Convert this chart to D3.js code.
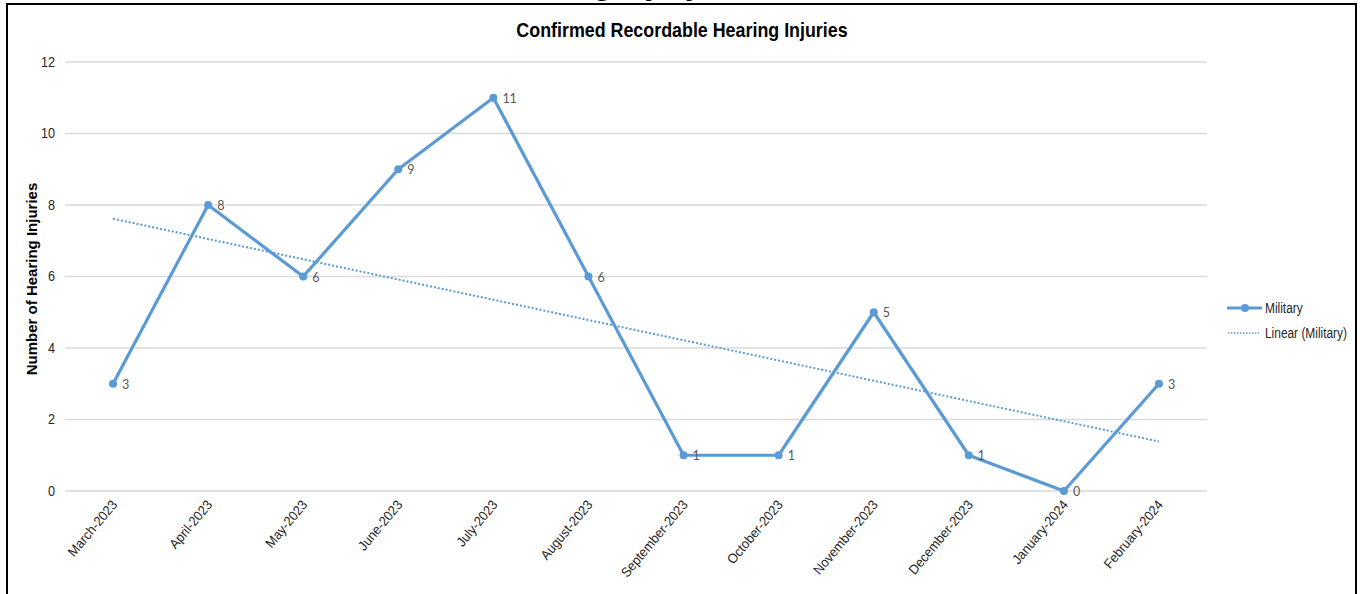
<!DOCTYPE html>
<html>
<head>
<meta charset="utf-8">
<title>Confirmed Recordable Hearing Injuries</title>
<script src="https://cdn.jsdelivr.net/npm/d3@7"></script>
<style>
  body { margin: 0; background: #fff; }
  svg { display: block; }
  .narrow { font-family: "Liberation Sans Narrow", "Arial Narrow", "Liberation Sans", Arial, sans-serif; }
</style>
</head>
<body>
<svg id="chart" width="1360" height="594"></svg>
<script>
// data
var months = ["March-2023", "April-2023", "May-2023", "June-2023", "July-2023", "August-2023",
              "September-2023", "October-2023", "November-2023", "December-2023", "January-2024", "February-2024"];
var military = [3, 8, 6, 9, 11, 6, 1, 1, 5, 1, 0, 3];
var yTicks = [0, 2, 4, 6, 8, 10, 12];

var blue = "#5b9bd5";

var svg = d3.select("#chart");

// squeeze text horizontally, no narrow font installed
function squeeze(sel, k) {
    sel.each(function() {
        var w = this.getComputedTextLength();
        d3.select(this).attr("textLength", w * k).attr("lengthAdjust", "spacingAndGlyphs");
    });
}

// frame of the slide
svg.append("rect")
    .attr("x", 7).attr("y", 4)
    .attr("width", 1349).attr("height", 640)
    .attr("fill", "none").attr("stroke", "#000").attr("stroke-width", 2);

// heading from above the frame, only its descenders show
svg.append("text")
    .attr("x", 500).attr("y", -5)
    .attr("font-family", "Liberation Sans, Arial, sans-serif")
    .attr("font-weight", "bold").attr("font-size", 30)
    .text("Hearing Injury");

var x = d3.scaleBand().domain(months).range([65.5, 1206.5]);
var y = d3.scaleLinear().domain([0, 12]).range([491, 62]);

// grid lines
svg.append("g").selectAll("line")
    .data(yTicks)
    .enter().append("line")
    .attr("x1", 65).attr("x2", 1207)
    .attr("y1", function(d) { return y(d); })
    .attr("y2", function(d) { return y(d); })
    .attr("stroke", "#d9d9d9").attr("stroke-width", 1.3);

// y tick labels
svg.append("g").selectAll("text")
    .data(yTicks)
    .enter().append("text")
    .attr("class", "narrow")
    .attr("x", 55)
    .attr("y", function(d) { return y(d); })
    .attr("dy", "0.35em")
    .attr("text-anchor", "end")
    .attr("font-size", 14)
    .attr("fill", "#262626")
    .text(function(d) { return d; })
    .call(squeeze, 0.9);

// x tick labels
svg.append("g").selectAll("text")
    .data(months)
    .enter().append("text")
    .attr("class", "narrow")
    .attr("text-anchor", "end")
    .attr("font-size", 13.5)
    .attr("fill", "#262626")
    .attr("transform", function(d) {
        return "translate(" + (x(d) + x.bandwidth() / 2 + 5) + ",505) rotate(-50)";
    })
    .text(function(d) { return d; })
    .call(squeeze, 0.95);

// axis title
svg.append("text")
    .attr("transform", "translate(37,279) rotate(-90)")
    .attr("text-anchor", "middle")
    .attr("font-family", "Liberation Sans, Arial, sans-serif")
    .attr("font-weight", "bold")
    .attr("font-size", 15)
    .attr("fill", "#000")
    .text("Number of Hearing Injuries");

// chart title
svg.append("text")
    .attr("class", "narrow")
    .attr("x", 682).attr("y", 37)
    .attr("text-anchor", "middle")
    .attr("font-weight", "bold")
    .attr("font-size", 21)
    .attr("fill", "#000")
    .text("Confirmed Recordable Hearing Injuries")
    .call(squeeze, 0.85);

var cx = function(d, i) { return x(months[i]) + x.bandwidth() / 2; };

// linear trend line (least squares)
var n = military.length;
var mx = d3.mean(military, function(d, i) { return i; });
var my = d3.mean(military);
var sxy = d3.sum(military, function(d, i) { return (i - mx) * (d - my); });
var sxx = d3.sum(military, function(d, i) { return (i - mx) * (i - mx); });
var slope = sxy / sxx;
var icpt = my - slope * mx;

svg.append("line")
    .attr("x1", cx(null, 0)).attr("y1", y(icpt))
    .attr("x2", cx(null, n - 1)).attr("y2", y(icpt + slope * (n - 1)))
    .attr("stroke", blue).attr("stroke-width", 2)
    .attr("stroke-dasharray", "2,2");

// series line
var line = d3.line()
    .x(function(d, i) { return cx(d, i); })
    .y(function(d) { return y(d); });

svg.append("path")
    .datum(military)
    .attr("d", line)
    .attr("fill", "none")
    .attr("stroke", blue)
    .attr("stroke-width", 3.2)
    .attr("stroke-linejoin", "round");

svg.append("g").selectAll("circle")
    .data(military)
    .enter().append("circle")
    .attr("cx", cx)
    .attr("cy", function(d) { return y(d); })
    .attr("r", 4)
    .attr("fill", blue);

// data labels
svg.append("g").selectAll("text")
    .data(military)
    .enter().append("text")
    .attr("x", function(d, i) { return cx(d, i) + 9; })
    .attr("y", function(d) { return y(d); })
    .attr("dy", "0.4em")
    .attr("font-family", "Lato, 'Open Sans', sans-serif")
    .attr("font-size", 12.5)
    .attr("fill", "#595959")
    .text(function(d) { return d; });

// legend
var lg = svg.append("g").attr("class", "narrow");
lg.append("line")
    .attr("x1", 1227).attr("x2", 1262).attr("y1", 308).attr("y2", 308)
    .attr("stroke", blue).attr("stroke-width", 3.2);
lg.append("circle").attr("cx", 1245).attr("cy", 308).attr("r", 4).attr("fill", blue);
lg.append("text").attr("x", 1265).attr("y", 308).attr("dy", "0.35em")
    .attr("font-size", 14).attr("fill", "#262626").text("Military")
    .call(squeeze, 0.85);
lg.append("line")
    .attr("x1", 1228).attr("x2", 1259).attr("y1", 333).attr("y2", 333)
    .attr("stroke", blue).attr("stroke-width", 1.5).attr("stroke-dasharray", "1.5,1.5");
lg.append("text").attr("x", 1265).attr("y", 333).attr("dy", "0.35em")
    .attr("font-size", 14).attr("fill", "#262626").text("Linear (Military)")
    .call(squeeze, 0.85);
</script>
</body>
</html>
